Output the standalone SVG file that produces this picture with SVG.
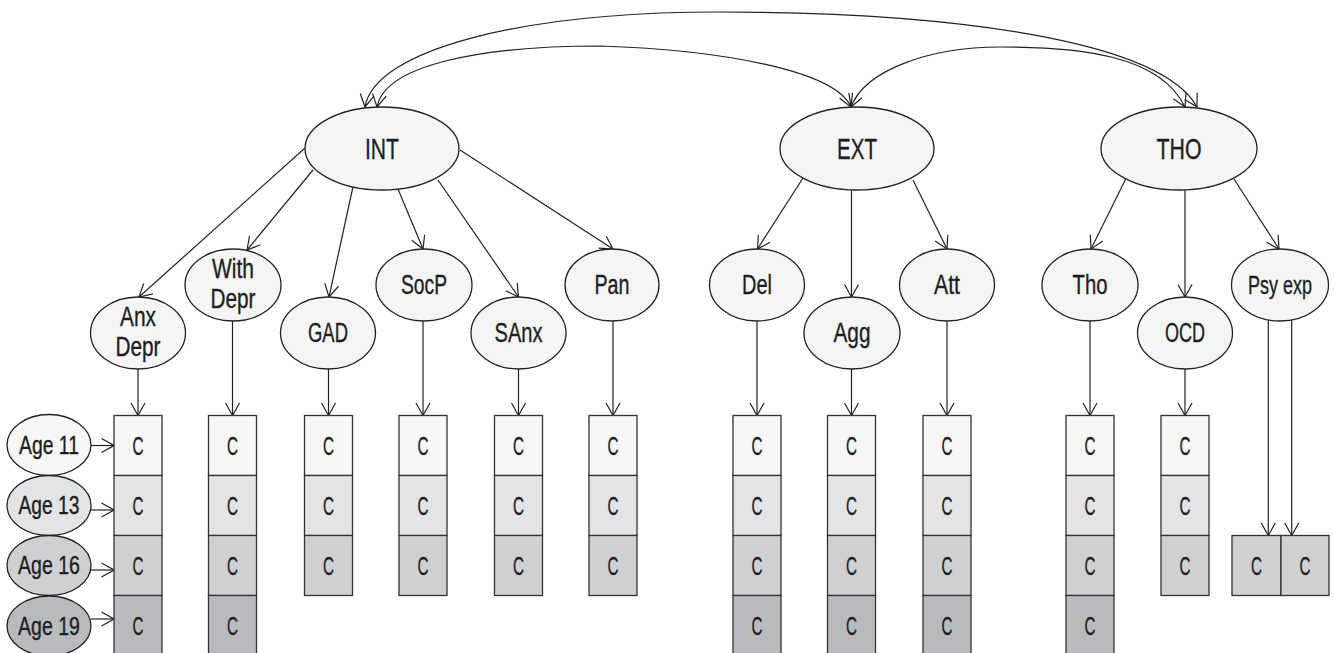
<svg xmlns="http://www.w3.org/2000/svg" width="1334" height="653" viewBox="0 0 1334 653">
<style>
text{font-family:"Liberation Sans",Arial,sans-serif;fill:#1e1e1e;stroke:#1e1e1e;stroke-width:0.35;text-anchor:middle}
.t1{font-size:30px}
.t2{font-size:27px}
.t3{font-size:25px}
.el{fill:#f5f5f5;stroke:#222;stroke-width:1.3}
.bx{stroke:#333;stroke-width:1.3}
.r1{fill:#f7f7f7}.r2{fill:#e3e4e6}.r3{fill:#cfd0d2}.r4{fill:#b9babd}
.ln{fill:none;stroke:#222;stroke-width:1.2;marker-end:url(#ah)}
.dl{fill:none;stroke:#222;stroke-width:1.2;marker-start:url(#ah);marker-end:url(#ah)}
</style>
<defs>
<marker id="ah" viewBox="-14 -8 15 16" markerWidth="15" markerHeight="16" refX="0" refY="0" orient="auto-start-reverse" markerUnits="userSpaceOnUse">
<path d="M-12.5,-7 L0,0 L-12.5,7" fill="none" stroke="#222" stroke-width="1.2"/>
</marker>
</defs>
<rect width="1334" height="653" fill="#fff"/>

<g id="connectors">
<path class="dl" d="M365,107 C375,50 520,12 720,12 C950,12 1160,40 1197,107"/>
<path class="dl" d="M377,107 C385,65 480,46 600,46 C720,50 835,70 851,107"/>
<path class="dl" d="M851,107 C865,70 930,47 1000,47 C1080,47 1160,55 1185,107"/>
<line class="ln" x1="305" y1="148" x2="139" y2="297"/>
<line class="ln" x1="313" y1="170" x2="247" y2="250"/>
<line class="ln" x1="352.7" y1="188" x2="329" y2="297"/>
<line class="ln" x1="398" y1="189" x2="423" y2="249"/>
<line class="ln" x1="438" y1="180" x2="518.5" y2="297"/>
<line class="ln" x1="460" y1="150" x2="613" y2="249"/>
<line class="ln" x1="803" y1="178" x2="757.5" y2="249"/>
<line class="ln" x1="851.5" y1="190" x2="851.5" y2="297"/>
<line class="ln" x1="913" y1="180" x2="947" y2="249"/>
<line class="ln" x1="1125.7" y1="179" x2="1091" y2="249"/>
<line class="ln" x1="1185" y1="190" x2="1185" y2="297"/>
<line class="ln" x1="1234" y1="179" x2="1279" y2="249"/>
<line class="ln" x1="138" y1="369" x2="138" y2="415.5"/>
<line class="ln" x1="232.5" y1="321" x2="232.5" y2="415.5"/>
<line class="ln" x1="328.5" y1="369" x2="328.5" y2="415.5"/>
<line class="ln" x1="423" y1="321" x2="423" y2="415.5"/>
<line class="ln" x1="518.5" y1="369" x2="518.5" y2="415.5"/>
<line class="ln" x1="613" y1="321" x2="613" y2="415.5"/>
<line class="ln" x1="757" y1="321" x2="757" y2="415.5"/>
<line class="ln" x1="851.5" y1="369" x2="851.5" y2="415.5"/>
<line class="ln" x1="947" y1="321" x2="947" y2="415.5"/>
<line class="ln" x1="1090" y1="321" x2="1090" y2="415.5"/>
<line class="ln" x1="1185" y1="369" x2="1185" y2="415.5"/>
<line class="ln" x1="1268.3" y1="320" x2="1268.3" y2="535.5"/>
<line class="ln" x1="1291.7" y1="320" x2="1291.7" y2="535.5"/>
<line class="ln" x1="91" y1="445.5" x2="114" y2="445.5"/>
<line class="ln" x1="91" y1="510" x2="114" y2="510"/>
<line class="ln" x1="91" y1="570" x2="114" y2="570"/>
<line class="ln" x1="91" y1="619" x2="114" y2="619"/>
</g>

<g id="INT"><ellipse class="el" cx="382" cy="148.5" rx="77" ry="41.5"/><text class="t1" x="382" y="159" textLength="34" lengthAdjust="spacingAndGlyphs">INT</text></g>
<g id="EXT"><ellipse class="el" cx="857" cy="148.5" rx="77" ry="41.5"/><text class="t1" x="857" y="159" textLength="40" lengthAdjust="spacingAndGlyphs">EXT</text></g>
<g id="THO"><ellipse class="el" cx="1179" cy="148.5" rx="78" ry="41.5"/><text class="t1" x="1179" y="159" textLength="45" lengthAdjust="spacingAndGlyphs">THO</text></g>

<g id="AnxDepr"><ellipse class="el" cx="138" cy="333" rx="47.5" ry="36"/><text class="t2" x="138" y="326" textLength="36" lengthAdjust="spacingAndGlyphs">Anx</text><text class="t2" x="138" y="356" textLength="45" lengthAdjust="spacingAndGlyphs">Depr</text></g>
<g id="WithDepr"><ellipse class="el" cx="233" cy="285" rx="48" ry="36"/><text class="t2" x="233" y="277.5" textLength="42" lengthAdjust="spacingAndGlyphs">With</text><text class="t2" x="233" y="308" textLength="45" lengthAdjust="spacingAndGlyphs">Depr</text></g>
<g id="GAD"><ellipse class="el" cx="328" cy="333" rx="47.5" ry="36"/><text class="t2" x="328" y="342" textLength="40" lengthAdjust="spacingAndGlyphs">GAD</text></g>
<g id="SocP"><ellipse class="el" cx="424" cy="285" rx="48" ry="36"/><text class="t2" x="424" y="294" textLength="46" lengthAdjust="spacingAndGlyphs">SocP</text></g>
<g id="SAnx"><ellipse class="el" cx="518.5" cy="333" rx="47.5" ry="36"/><text class="t2" x="518.5" y="342" textLength="48" lengthAdjust="spacingAndGlyphs">SAnx</text></g>
<g id="Pan"><ellipse class="el" cx="612" cy="285" rx="47" ry="36"/><text class="t2" x="612" y="294" textLength="35" lengthAdjust="spacingAndGlyphs">Pan</text></g>
<g id="Del"><ellipse class="el" cx="757" cy="285" rx="47.5" ry="36"/><text class="t2" x="757" y="294" textLength="30" lengthAdjust="spacingAndGlyphs">Del</text></g>
<g id="Agg"><ellipse class="el" cx="852" cy="333" rx="48" ry="36"/><text class="t2" x="852" y="342" textLength="37" lengthAdjust="spacingAndGlyphs">Agg</text></g>
<g id="Att"><ellipse class="el" cx="947" cy="285" rx="47.5" ry="36"/><text class="t2" x="947" y="294" textLength="26" lengthAdjust="spacingAndGlyphs">Att</text></g>
<g id="Tho"><ellipse class="el" cx="1090" cy="285" rx="48" ry="36"/><text class="t2" x="1090" y="294" textLength="35" lengthAdjust="spacingAndGlyphs">Tho</text></g>
<g id="OCD"><ellipse class="el" cx="1185" cy="333" rx="47.5" ry="36"/><text class="t2" x="1185" y="342" textLength="40" lengthAdjust="spacingAndGlyphs">OCD</text></g>
<g id="PsyExp"><ellipse class="el" cx="1280" cy="285" rx="48.5" ry="36"/><text x="1280" y="293.5" style="font-size:25px" textLength="64" lengthAdjust="spacingAndGlyphs">Psy exp</text></g>

<g id="Age11"><ellipse class="el r1" cx="49" cy="445" rx="42" ry="30.5"/><text class="t3" x="49" y="453.5" textLength="60" lengthAdjust="spacingAndGlyphs">Age 11</text></g>
<g id="Age13"><ellipse class="el r2" cx="49" cy="505.5" rx="42" ry="30"/><text class="t3" x="49" y="514" textLength="61" lengthAdjust="spacingAndGlyphs">Age 13</text></g>
<g id="Age16"><ellipse class="el r3" cx="49" cy="565.5" rx="42" ry="30"/><text class="t3" x="49" y="574" textLength="62" lengthAdjust="spacingAndGlyphs">Age 16</text></g>
<g id="Age19"><ellipse class="el r4" cx="49" cy="626" rx="42" ry="30"/><text class="t3" x="49" y="634.5" textLength="62" lengthAdjust="spacingAndGlyphs">Age 19</text></g>

<g id="col1"><rect class="bx r1" x="114" y="415.5" width="48" height="60"/><rect class="bx r2" x="114" y="475.5" width="48" height="60"/><rect class="bx r3" x="114" y="535.5" width="48" height="60"/><rect class="bx r4" x="114" y="595.5" width="48" height="60"/>
<text class="t3" x="138" y="454.5" textLength="11" lengthAdjust="spacingAndGlyphs">C</text><text class="t3" x="138" y="514.5" textLength="11" lengthAdjust="spacingAndGlyphs">C</text><text class="t3" x="138" y="574.5" textLength="11" lengthAdjust="spacingAndGlyphs">C</text><text class="t3" x="138" y="634.5" textLength="11" lengthAdjust="spacingAndGlyphs">C</text></g>
<g id="col2"><rect class="bx r1" x="208.5" y="415.5" width="48" height="60"/><rect class="bx r2" x="208.5" y="475.5" width="48" height="60"/><rect class="bx r3" x="208.5" y="535.5" width="48" height="60"/><rect class="bx r4" x="208.5" y="595.5" width="48" height="60"/>
<text class="t3" x="232.5" y="454.5" textLength="11" lengthAdjust="spacingAndGlyphs">C</text><text class="t3" x="232.5" y="514.5" textLength="11" lengthAdjust="spacingAndGlyphs">C</text><text class="t3" x="232.5" y="574.5" textLength="11" lengthAdjust="spacingAndGlyphs">C</text><text class="t3" x="232.5" y="634.5" textLength="11" lengthAdjust="spacingAndGlyphs">C</text></g>
<g id="col3"><rect class="bx r1" x="304.5" y="415.5" width="48" height="60"/><rect class="bx r2" x="304.5" y="475.5" width="48" height="60"/><rect class="bx r3" x="304.5" y="535.5" width="48" height="60"/>
<text class="t3" x="328.5" y="454.5" textLength="11" lengthAdjust="spacingAndGlyphs">C</text><text class="t3" x="328.5" y="514.5" textLength="11" lengthAdjust="spacingAndGlyphs">C</text><text class="t3" x="328.5" y="574.5" textLength="11" lengthAdjust="spacingAndGlyphs">C</text></g>
<g id="col4"><rect class="bx r1" x="399" y="415.5" width="48" height="60"/><rect class="bx r2" x="399" y="475.5" width="48" height="60"/><rect class="bx r3" x="399" y="535.5" width="48" height="60"/>
<text class="t3" x="423" y="454.5" textLength="11" lengthAdjust="spacingAndGlyphs">C</text><text class="t3" x="423" y="514.5" textLength="11" lengthAdjust="spacingAndGlyphs">C</text><text class="t3" x="423" y="574.5" textLength="11" lengthAdjust="spacingAndGlyphs">C</text></g>
<g id="col5"><rect class="bx r1" x="494.5" y="415.5" width="48" height="60"/><rect class="bx r2" x="494.5" y="475.5" width="48" height="60"/><rect class="bx r3" x="494.5" y="535.5" width="48" height="60"/>
<text class="t3" x="518.5" y="454.5" textLength="11" lengthAdjust="spacingAndGlyphs">C</text><text class="t3" x="518.5" y="514.5" textLength="11" lengthAdjust="spacingAndGlyphs">C</text><text class="t3" x="518.5" y="574.5" textLength="11" lengthAdjust="spacingAndGlyphs">C</text></g>
<g id="col6"><rect class="bx r1" x="589" y="415.5" width="48" height="60"/><rect class="bx r2" x="589" y="475.5" width="48" height="60"/><rect class="bx r3" x="589" y="535.5" width="48" height="60"/>
<text class="t3" x="613" y="454.5" textLength="11" lengthAdjust="spacingAndGlyphs">C</text><text class="t3" x="613" y="514.5" textLength="11" lengthAdjust="spacingAndGlyphs">C</text><text class="t3" x="613" y="574.5" textLength="11" lengthAdjust="spacingAndGlyphs">C</text></g>
<g id="col7"><rect class="bx r1" x="733" y="415.5" width="48" height="60"/><rect class="bx r2" x="733" y="475.5" width="48" height="60"/><rect class="bx r3" x="733" y="535.5" width="48" height="60"/><rect class="bx r4" x="733" y="595.5" width="48" height="60"/>
<text class="t3" x="757" y="454.5" textLength="11" lengthAdjust="spacingAndGlyphs">C</text><text class="t3" x="757" y="514.5" textLength="11" lengthAdjust="spacingAndGlyphs">C</text><text class="t3" x="757" y="574.5" textLength="11" lengthAdjust="spacingAndGlyphs">C</text><text class="t3" x="757" y="634.5" textLength="11" lengthAdjust="spacingAndGlyphs">C</text></g>
<g id="col8"><rect class="bx r1" x="827.5" y="415.5" width="48" height="60"/><rect class="bx r2" x="827.5" y="475.5" width="48" height="60"/><rect class="bx r3" x="827.5" y="535.5" width="48" height="60"/><rect class="bx r4" x="827.5" y="595.5" width="48" height="60"/>
<text class="t3" x="851.5" y="454.5" textLength="11" lengthAdjust="spacingAndGlyphs">C</text><text class="t3" x="851.5" y="514.5" textLength="11" lengthAdjust="spacingAndGlyphs">C</text><text class="t3" x="851.5" y="574.5" textLength="11" lengthAdjust="spacingAndGlyphs">C</text><text class="t3" x="851.5" y="634.5" textLength="11" lengthAdjust="spacingAndGlyphs">C</text></g>
<g id="col9"><rect class="bx r1" x="923" y="415.5" width="48" height="60"/><rect class="bx r2" x="923" y="475.5" width="48" height="60"/><rect class="bx r3" x="923" y="535.5" width="48" height="60"/><rect class="bx r4" x="923" y="595.5" width="48" height="60"/>
<text class="t3" x="947" y="454.5" textLength="11" lengthAdjust="spacingAndGlyphs">C</text><text class="t3" x="947" y="514.5" textLength="11" lengthAdjust="spacingAndGlyphs">C</text><text class="t3" x="947" y="574.5" textLength="11" lengthAdjust="spacingAndGlyphs">C</text><text class="t3" x="947" y="634.5" textLength="11" lengthAdjust="spacingAndGlyphs">C</text></g>
<g id="col10"><rect class="bx r1" x="1066" y="415.5" width="48" height="60"/><rect class="bx r2" x="1066" y="475.5" width="48" height="60"/><rect class="bx r3" x="1066" y="535.5" width="48" height="60"/><rect class="bx r4" x="1066" y="595.5" width="48" height="60"/>
<text class="t3" x="1090" y="454.5" textLength="11" lengthAdjust="spacingAndGlyphs">C</text><text class="t3" x="1090" y="514.5" textLength="11" lengthAdjust="spacingAndGlyphs">C</text><text class="t3" x="1090" y="574.5" textLength="11" lengthAdjust="spacingAndGlyphs">C</text><text class="t3" x="1090" y="634.5" textLength="11" lengthAdjust="spacingAndGlyphs">C</text></g>
<g id="col11"><rect class="bx r1" x="1161" y="415.5" width="48" height="60"/><rect class="bx r2" x="1161" y="475.5" width="48" height="60"/><rect class="bx r3" x="1161" y="535.5" width="48" height="60"/>
<text class="t3" x="1185" y="454.5" textLength="11" lengthAdjust="spacingAndGlyphs">C</text><text class="t3" x="1185" y="514.5" textLength="11" lengthAdjust="spacingAndGlyphs">C</text><text class="t3" x="1185" y="574.5" textLength="11" lengthAdjust="spacingAndGlyphs">C</text></g>
<g id="col12"><rect class="bx r3" x="1232" y="535.5" width="49" height="60"/><rect class="bx r3" x="1281" y="535.5" width="48" height="60"/>
<text class="t3" x="1256.5" y="574.5" textLength="11" lengthAdjust="spacingAndGlyphs">C</text><text class="t3" x="1305" y="574.5" textLength="11" lengthAdjust="spacingAndGlyphs">C</text></g>
</svg>
